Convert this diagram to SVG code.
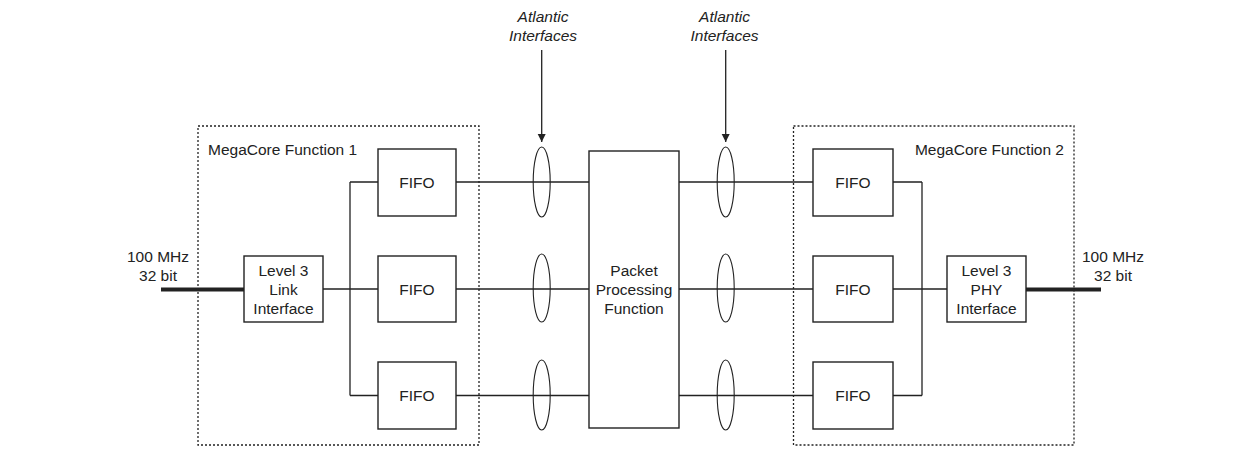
<svg xmlns="http://www.w3.org/2000/svg" width="1256" height="451" viewBox="0 0 1256 451">
<style>
.box{fill:#fff;stroke:#222;stroke-width:1.4}
.dot{fill:none;stroke:#222;stroke-width:1.3;stroke-dasharray:2 2}
.ln{fill:none;stroke:#222;stroke-width:1.3}
.thick{fill:none;stroke:#222;stroke-width:4}
.ell{fill:none;stroke:#222;stroke-width:1.1}
text{font-family:"Liberation Sans",Arial,sans-serif;font-size:15.5px;fill:#222}
.c{text-anchor:middle}
.it{font-style:italic}
</style>
<defs>
<marker id="ah" markerWidth="8" markerHeight="10" refX="8" refY="5" orient="auto" markerUnits="userSpaceOnUse">
<path d="M0,1 L8,5 L0,9 Z" fill="#222"/>
</marker>
</defs>
<g id="megacore1"><rect class="dot" x="198" y="126" width="281" height="319"/><text x="208" y="155">MegaCore Function 1</text></g>
<g id="megacore2"><rect class="dot" x="793.5" y="126" width="280.5" height="319"/><text x="1064" y="155" text-anchor="end">MegaCore Function 2</text></g>
<g id="connectors">
<line class="thick" x1="161" y1="289.5" x2="244" y2="289.5"/>
<line class="thick" x1="1026" y1="289.5" x2="1101" y2="289.5"/>
<path class="ln" d="M323,289 H378 M350,182 V395.5 M350,182 H378 M350,395.5 H378"/>
<path class="ln" d="M456,182 H589 M456,289 H589 M456,395.5 H589"/>
<path class="ln" d="M679,182 H813 M679,289 H813 M679,395.5 H813"/>
<path class="ln" d="M893,289 H947 M922,182 V395.5 M893,182 H922 M893,395.5 H922"/>
<line class="ln" x1="541.7" y1="50" x2="541.7" y2="142" marker-end="url(#ah)"/>
<line class="ln" x1="725.7" y1="50" x2="725.7" y2="142" marker-end="url(#ah)"/>
<ellipse class="ell" cx="541.7" cy="182" rx="8.5" ry="35"/>
<ellipse class="ell" cx="541.7" cy="288" rx="8.5" ry="34"/>
<ellipse class="ell" cx="541.7" cy="395" rx="8.5" ry="35"/>
<ellipse class="ell" cx="725.7" cy="182" rx="8.5" ry="35"/>
<ellipse class="ell" cx="725.7" cy="288" rx="8.5" ry="34"/>
<ellipse class="ell" cx="725.7" cy="395" rx="8.5" ry="35"/>
</g>
<g id="atlantic1"><text class="c it" x="543" y="22">Atlantic</text><text class="c it" x="543" y="41">Interfaces</text></g>
<g id="atlantic2"><text class="c it" x="724.5" y="22">Atlantic</text><text class="c it" x="724.5" y="41">Interfaces</text></g>
<g id="in-label"><text class="c" x="158" y="262">100 MHz</text><text class="c" x="158" y="281">32 bit</text></g>
<g id="out-label"><text class="c" x="1113" y="262">100 MHz</text><text class="c" x="1113" y="281">32 bit</text></g>
<g id="link"><rect class="box" x="244" y="256" width="79" height="66"/><text class="c" x="283.5" y="276">Level 3</text><text class="c" x="283.5" y="295">Link</text><text class="c" x="283.5" y="314">Interface</text></g>
<g id="fifo-l1"><rect class="box" x="378" y="149" width="78" height="67"/><text class="c" x="417" y="188">FIFO</text></g>
<g id="fifo-l2"><rect class="box" x="378" y="256" width="78" height="66"/><text class="c" x="417" y="295">FIFO</text></g>
<g id="fifo-l3"><rect class="box" x="378" y="362" width="78" height="67"/><text class="c" x="417" y="401">FIFO</text></g>
<g id="packet"><rect class="box" x="589" y="151" width="90" height="277"/><text class="c" x="634" y="276">Packet</text><text class="c" x="634" y="295">Processing</text><text class="c" x="634" y="314">Function</text></g>
<g id="fifo-r1"><rect class="box" x="813" y="149" width="80" height="67"/><text class="c" x="853" y="188">FIFO</text></g>
<g id="fifo-r2"><rect class="box" x="813" y="256" width="80" height="66"/><text class="c" x="853" y="295">FIFO</text></g>
<g id="fifo-r3"><rect class="box" x="813" y="362" width="80" height="67"/><text class="c" x="853" y="401">FIFO</text></g>
<g id="phy"><rect class="box" x="947" y="256" width="79" height="66"/><text class="c" x="986.5" y="276">Level 3</text><text class="c" x="986.5" y="295">PHY</text><text class="c" x="986.5" y="314">Interface</text></g>
</svg>
